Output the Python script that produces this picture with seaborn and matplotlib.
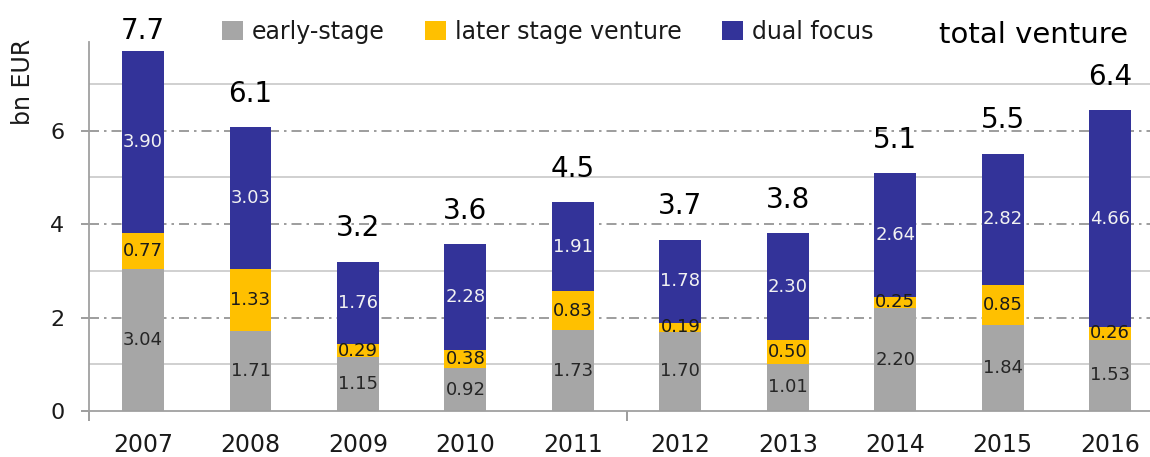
import matplotlib
matplotlib.use("Agg")
import matplotlib.pyplot as plt
from matplotlib.patches import Patch
from matplotlib.ticker import FixedLocator
import numpy as np
import pandas as pd
import seaborn as sns

years = ["2007", "2008", "2009", "2010", "2011", "2012", "2013", "2014", "2015", "2016"]
early_stage = [3.04, 1.71, 1.15, 0.92, 1.73, 1.70, 1.01, 2.20, 1.84, 1.53]
later_stage = [0.77, 1.33, 0.29, 0.38, 0.83, 0.19, 0.50, 0.25, 0.85, 0.26]
dual_focus = [3.90, 3.03, 1.76, 2.28, 1.91, 1.78, 2.30, 2.64, 2.82, 4.66]
total_labels = ["7.7", "6.1", "3.2", "3.6", "4.5", "3.7", "3.8", "5.1", "5.5", "6.4"]
series_names = ["early-stage", "later stage venture", "dual focus"]

GRAY = "#A6A6A6"
YELLOW = "#FFC000"
BLUE = "#333399"
INK = "#1a1a1a"

sns.set_theme(style="white")
plt.rcParams["font.family"] = ["DejaVu Sans"]

df = pd.DataFrame({
    "year": years,
    "early": early_stage,
    "later": later_stage,
    "dual": dual_focus,
})
df["lvl1"] = df["early"]
df["lvl2"] = df["early"] + df["later"]
df["lvl3"] = df["lvl2"] + df["dual"]

fig = plt.figure(figsize=(11.5, 4.57), dpi=100)
ax = fig.add_axes([89.3 / 1150, 46 / 457, 1074.7 / 1150, 369 / 457])

# stacked bars: draw cumulative heights from the top layer down
bar_w = 0.39
for col, color in [("lvl3", BLUE), ("lvl2", YELLOW), ("lvl1", GRAY)]:
    sns.barplot(data=df, x="year", y=col, color=color, width=bar_w,
                saturation=1, ax=ax, edgecolor="none", linewidth=0)

ymax = 7.9
ax.set_xlim(-0.5, 9.5)
ax.set_ylim(0, ymax)

# grid: solid at odd values, dash-dot at even values
for v in [1, 3, 5, 7]:
    ax.axhline(v, color="#C8C8C8", lw=1.2, zorder=0)
for v in [2, 4, 6]:
    ax.axhline(v, color="#8C8C8C", lw=1.2, ls=(0, (6, 3, 1.5, 3)), zorder=0)

ax.yaxis.set_major_locator(FixedLocator([0, 2, 4, 6]))
ax.tick_params(axis="y", which="major", length=6, width=1.2, color="#8C8C8C",
               labelsize=16, pad=12, left=True, labelcolor=INK)
ax.xaxis.set_minor_locator(FixedLocator([-0.5, 4.5, 9.5]))
ax.tick_params(axis="x", which="major", length=0, labelsize=17, pad=16,
               labelcolor=INK)
ax.tick_params(axis="x", which="minor", length=7, width=1.2, color="#8C8C8C",
               bottom=True)

for side in ["top", "right"]:
    ax.spines[side].set_visible(False)
for side in ["left", "bottom"]:
    ax.spines[side].set_color("#A0A0A0")
    ax.spines[side].set_linewidth(1.3)

ax.set_xlabel("")
ax.set_ylabel("bn EUR", fontsize=17, color=INK)
ax.yaxis.set_label_coords(-0.0505, 0.893)

# segment value labels
x = np.arange(len(years))
for i in x:
    segs = [(early_stage[i], 0.0, "#262626"),
            (later_stage[i], early_stage[i], INK),
            (dual_focus[i], early_stage[i] + later_stage[i], "#F2F2F2")]
    for val, base, tc in segs:
        ax.text(i, base + val / 2, f"{val:.2f}", ha="center", va="center",
                fontsize=13, color=tc, zorder=5)
    top = df["lvl3"][i]
    ax.text(i, min(top + 0.54, ymax + 0.07), total_labels[i], ha="center",
            va="baseline", fontsize=20, color="black", clip_on=False)

handles = [Patch(facecolor=c, edgecolor="none") for c in (GRAY, YELLOW, BLUE)]
fig.legend(handles, series_names, ncol=3, frameon=False, fontsize=17,
           loc="center left", bbox_to_anchor=(222 / 1150, 1 - 32 / 457),
           handlelength=0.89, handleheight=0.85, handletextpad=0.38,
           columnspacing=1.7, borderpad=0, borderaxespad=0, labelcolor=INK)
fig.text(1128 / 1150, 1 - 43 / 457, "total venture", ha="right", va="baseline",
         fontsize=21, color="black")

fig.savefig("out.png", dpi=100)
